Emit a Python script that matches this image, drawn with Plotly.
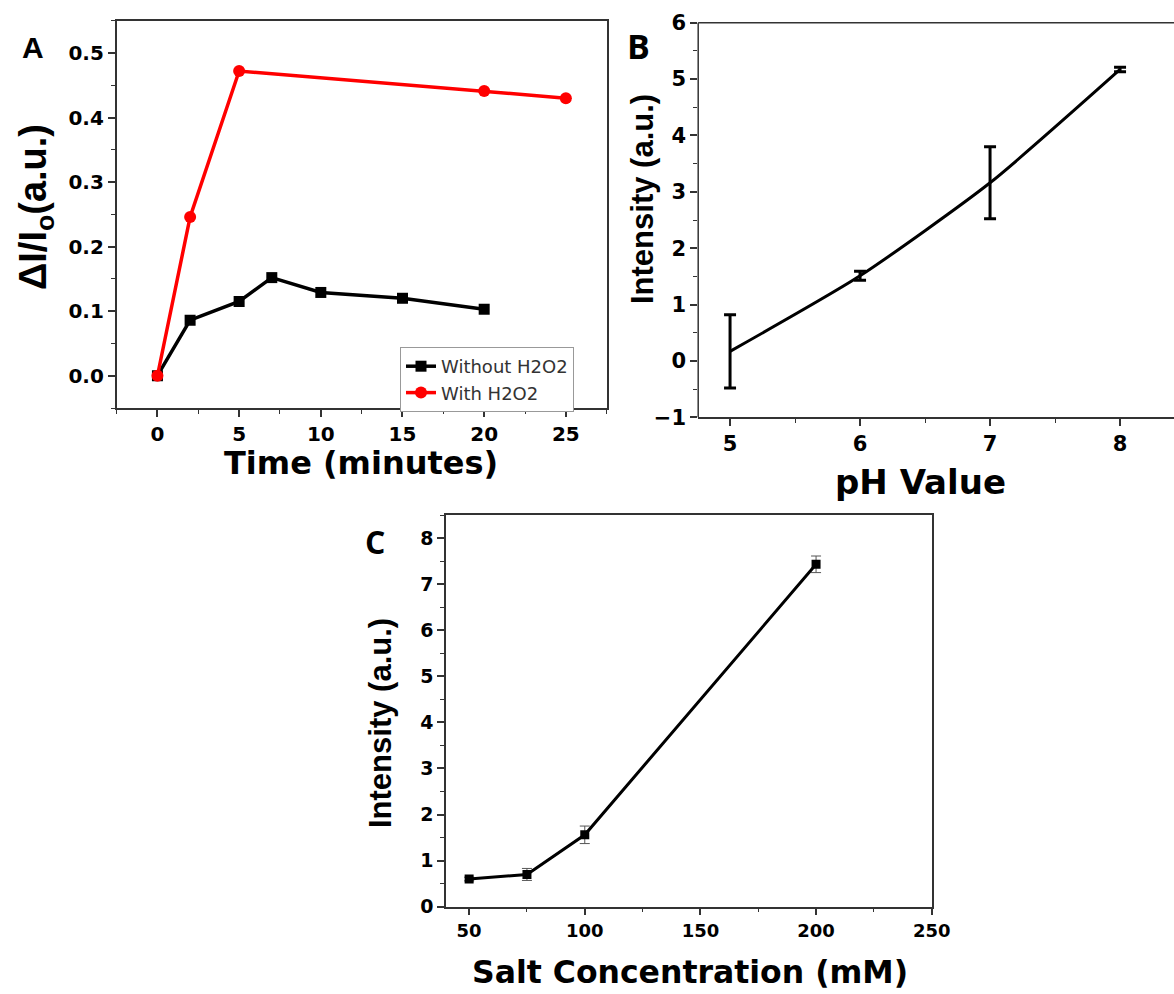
import plotly.graph_objects as go

# Panel A data
time_without = [0, 2, 5, 7, 10, 15, 20]
dI_without = [0.0, 0.086, 0.115, 0.152, 0.129, 0.120, 0.103]
time_with = [0, 2, 5, 20, 25]
dI_with = [0.0, 0.246, 0.472, 0.441, 0.430]

# Panel B data
ph_values = [5, 6, 7, 8]
ph_intensity = [0.17, 1.51, 3.16, 5.17]
ph_err = [0.65, 0.08, 0.64, 0.04]

# Panel C data
salt_conc = [50, 75, 100, 200]
salt_intensity = [0.60, 0.70, 1.56, 7.43]
salt_err = [0.04, 0.13, 0.19, 0.18]

W, H = 1174, 994
WIDE = "DejaVu Sans, sans-serif"
ARIAL = "Liberation Sans, Arial, sans-serif"
LETTER = "Open Sans, sans-serif"

def px(xp):
    return xp / W

def py(yp):
    return 1 - yp / H

fig = go.Figure()

fig.add_trace(go.Scatter(x=time_without, y=dI_without, mode="lines+markers", name="Without H2O2",
                         line=dict(color="black", width=3.5),
                         marker=dict(symbol="square", size=11, color="black"),
                         xaxis="x", yaxis="y"))
fig.add_trace(go.Scatter(x=time_with, y=dI_with, mode="lines+markers", name="With H2O2",
                         line=dict(color="#ff0000", width=3.5),
                         marker=dict(symbol="circle", size=12, color="#ff0000"),
                         xaxis="x", yaxis="y"))

fig.add_trace(go.Scatter(x=ph_values, y=ph_intensity, mode="lines", showlegend=False,
                         line=dict(color="black", width=3, shape="spline", smoothing=0.6),
                         error_y=dict(type="data", array=ph_err, color="black", thickness=3, width=6),
                         xaxis="x2", yaxis="y2"))

fig.add_trace(go.Scatter(x=salt_conc, y=salt_intensity, mode="lines+markers", showlegend=False,
                         line=dict(color="black", width=3),
                         marker=dict(symbol="square", size=9, color="black"),
                         error_y=dict(type="data", array=salt_err, color="#555555", thickness=1, width=5),
                         xaxis="x3", yaxis="y3"))

def common(size):
    return dict(showline=True, linecolor="#333333", linewidth=1.5, ticks="outside", ticklen=7,
                tickwidth=1.5, tickcolor="#333333", showgrid=False, zeroline=False,
                tickfont=dict(family=WIDE, size=size, color="black", weight="bold"))

minor = dict(ticks="outside", ticklen=4, tickwidth=1.2, tickcolor="#333333", showgrid=False)

yaxis2_opts = common(21)
yaxis2_opts["showline"] = False

fig.update_layout(
    width=W, height=H, margin=dict(l=0, r=0, t=0, b=0, autoexpand=False),
    paper_bgcolor="white", plot_bgcolor="white",
    showlegend=True,
    legend=dict(x=px(400), y=py(347), xanchor="left", yanchor="top",
                bgcolor="white", bordercolor="#999999", borderwidth=1,
                font=dict(family=WIDE, size=18, color="#333333"),
                tracegroupgap=0),
    xaxis=dict(domain=[px(116.6), px(606.7)], range=[-2.5, 27.5], anchor="y", mirror=True,
               tickvals=[0, 5, 10, 15, 20, 25], minor=dict(dtick=2.5, **minor), **common(20)),
    yaxis=dict(domain=[py(408), py(20.7)], range=[-0.05, 0.55], anchor="x", mirror=True,
               tickvals=[0, 0.1, 0.2, 0.3, 0.4, 0.5], tickformat=".1f",
               minor=dict(dtick=0.05, **minor), **common(20)),
    xaxis2=dict(domain=[px(698.2), 1.0], range=[4.755, 8.415], anchor="y2", mirror=False,
                tickvals=[5, 6, 7, 8], minor=dict(dtick=0.5, **minor), **common(21)),
    yaxis2=dict(domain=[py(417.3), py(22.7)], range=[-1, 6], anchor="x2", mirror=False,
                tickvals=[-1, 0, 1, 2, 3, 4, 5, 6], minor=dict(dtick=0.5, **minor), **yaxis2_opts),
    xaxis3=dict(domain=[px(446), px(931.7)], range=[40, 250], anchor="y3", mirror=True,
                tickvals=[50, 100, 150, 200, 250], minor=dict(dtick=25, **minor), **common(18)),
    yaxis3=dict(domain=[py(906.7), py(515)], range=[0, 8.5], anchor="x3", mirror=True,
                tickvals=[0, 1, 2, 3, 4, 5, 6, 7, 8], minor=dict(dtick=0.5, **minor), **common(19)),
)

# top and left frame lines of panel B (no right frame line, as in the reference)
fig.add_shape(type="line", xref="x2 domain", yref="y2 domain", x0=0, x1=1, y0=1, y1=1,
              line=dict(color="#333333", width=1.5))
fig.add_shape(type="line", xref="x2 domain", yref="y2 domain", x0=0, x1=0, y0=0, y1=1,
              line=dict(color="#333333", width=1.5))

def ann(text, x, y, size, family, angle=0):
    fig.add_annotation(text=text, x=px(x), y=py(y), xref="paper", yref="paper",
                       showarrow=False, textangle=angle, xanchor="center", yanchor="middle",
                       font=dict(family=family, size=size, color="black", weight="bold"))

ann("A", 33, 48, 30, ARIAL)
ann("B", 638, 46, 34, LETTER)
ann("C", 375, 541, 32, LETTER)

ann("ΔI/I<sub>o</sub>(a.u.)", 36, 207, 38, ARIAL, -90)
ann("Time (minutes)", 361, 463, 32, WIDE)
ann("Intensity (a.u.)", 642, 199, 31, ARIAL, -90)
ann("pH Value", 920, 482, 34, WIDE)
ann("Intensity (a.u.)", 380, 723, 31, ARIAL, -90)
ann("Salt Concentration (mM)", 690, 972, 31.5, WIDE)

fig.write_html("out.html", config={"displayModeBar": False},
               post_script="document.body.style.margin='0';document.body.style.overflow='hidden';")
